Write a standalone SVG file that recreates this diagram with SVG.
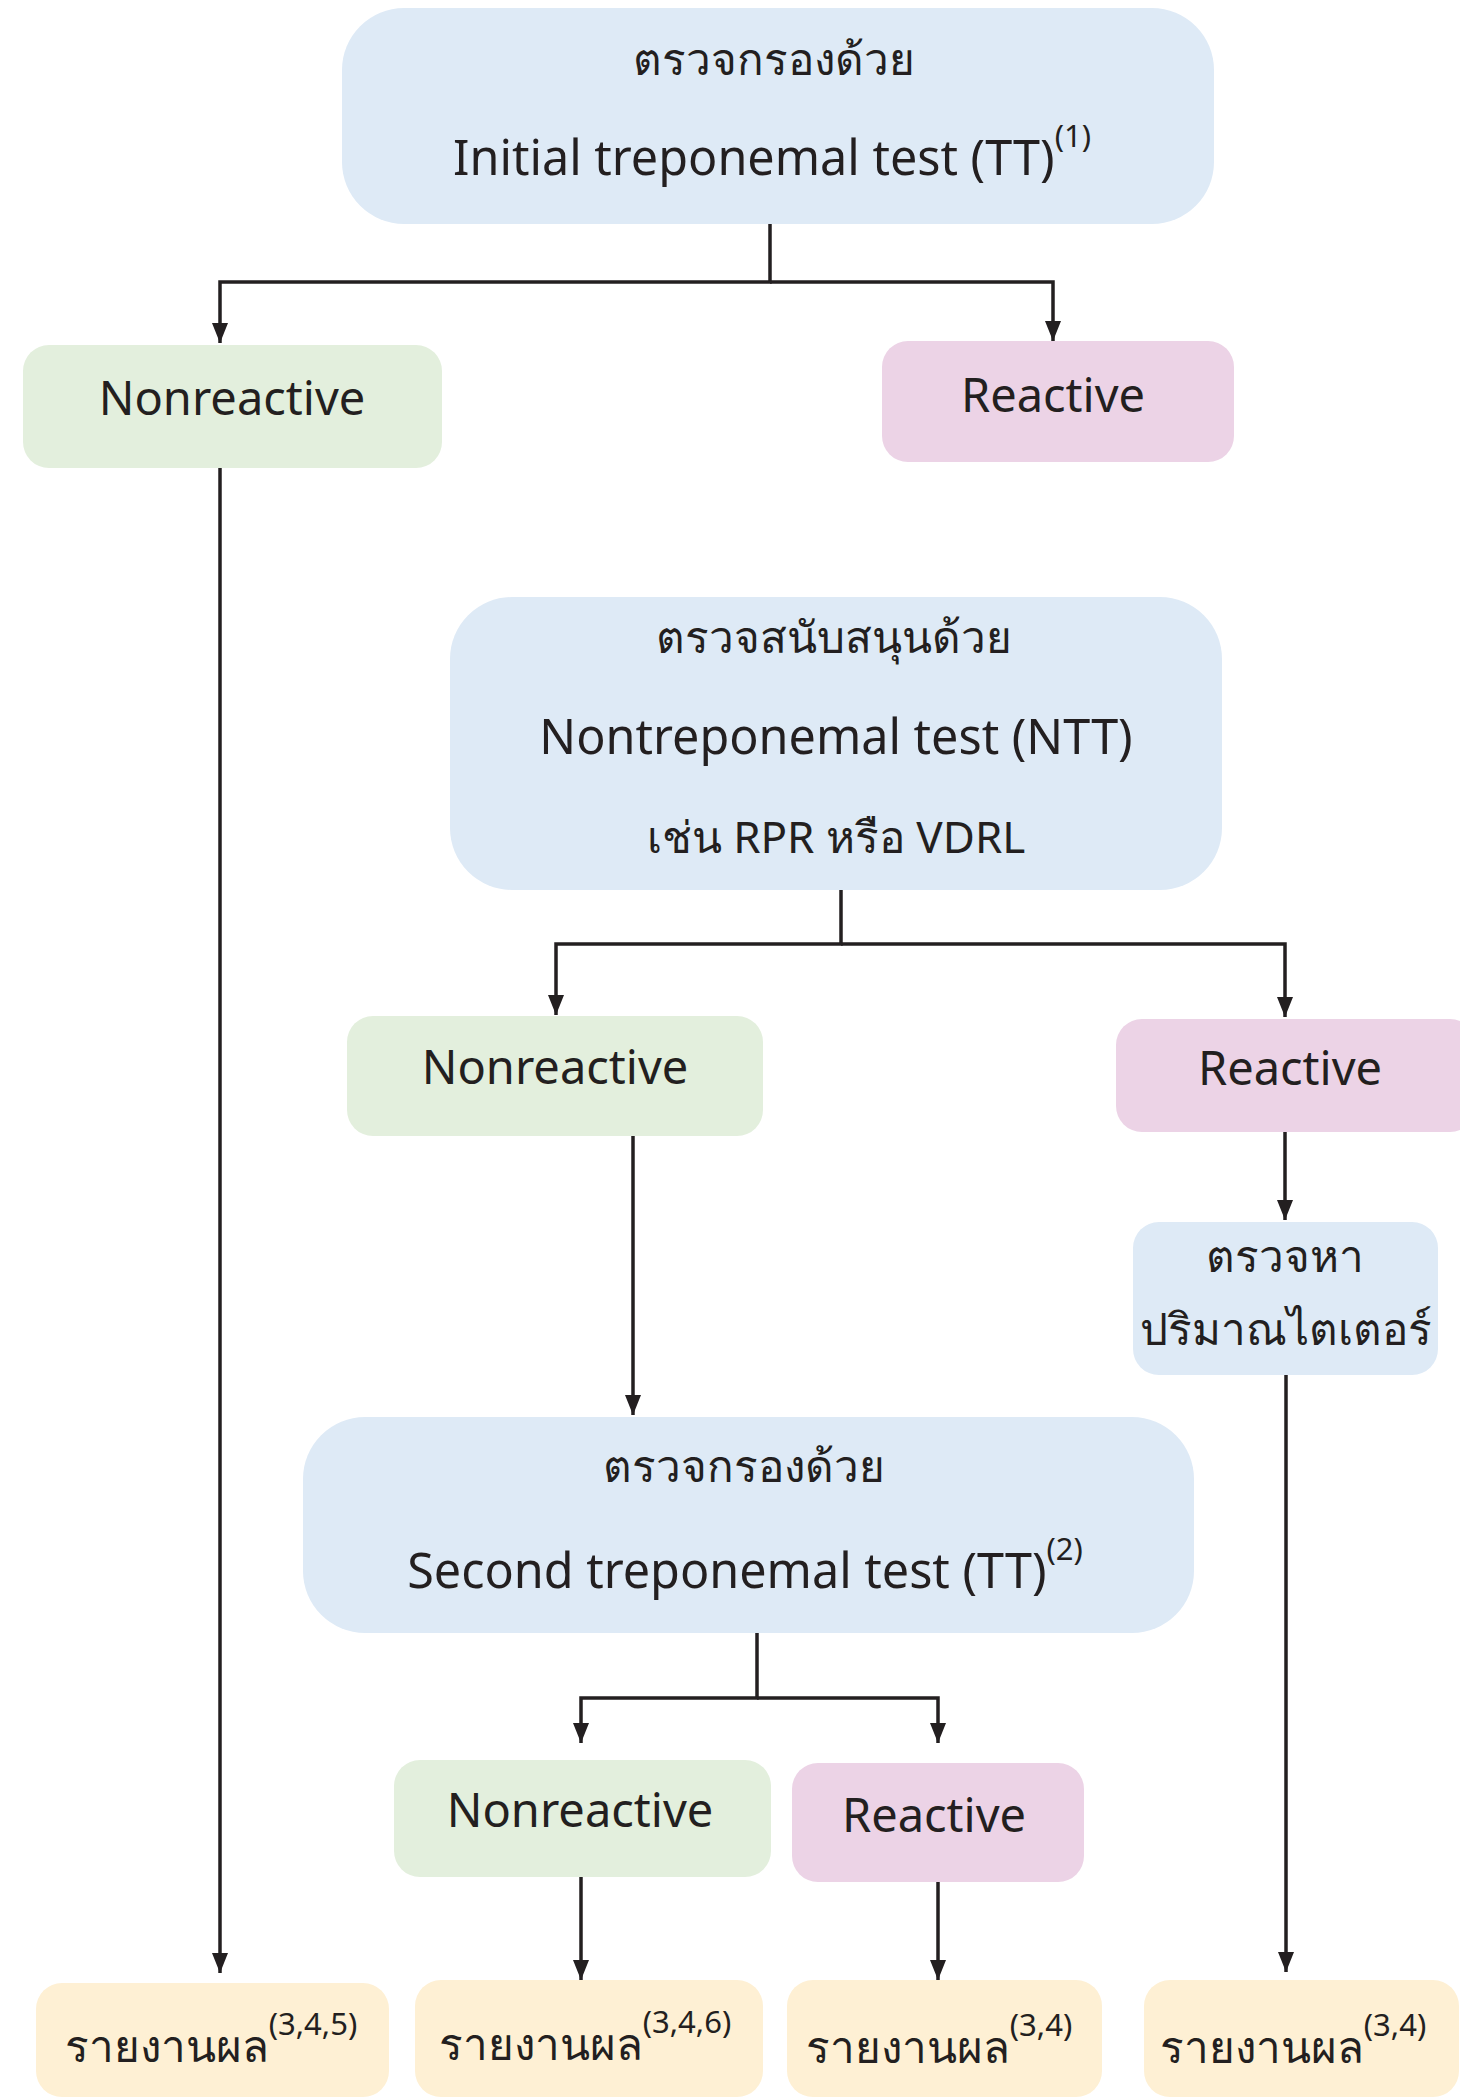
<svg xmlns="http://www.w3.org/2000/svg" width="1460" height="2097" viewBox="0 0 1460 2097">
<defs>
<style>
.blue{fill:#DEEAF6}
.green{fill:#E3EFDD}
.pink{fill:#ECD3E6}
.yellow{fill:#FEF0D4}
text{font-family:"Noto Sans","DejaVu Sans",sans-serif;fill:#231F20;text-anchor:middle}
.t{font-size:47px}
.tl{font-size:48.5px}
.th{font-size:44px}
.sup{font-size:31px}
.con{fill:none;stroke:#231F20;stroke-width:3.5}
</style>
<marker id="ah" markerUnits="userSpaceOnUse" viewBox="0 0 20 16" refX="20" refY="8" markerWidth="20" markerHeight="16" orient="auto">
<path d="M0,0 L20,8 L0,16 z" fill="#231F20"/>
</marker>
</defs>
<rect width="1460" height="2097" fill="#ffffff"/>
<g id="connectors">
<path class="con" d="M770,224 V282 H220 V343" marker-end="url(#ah)"/>
<path class="con" d="M770,282 H1053 V341" marker-end="url(#ah)"/>
<path class="con" d="M220,468 V1973" marker-end="url(#ah)"/>
<path class="con" d="M841,890 V944 H556 V1015" marker-end="url(#ah)"/>
<path class="con" d="M841,944 H1285 V1017" marker-end="url(#ah)"/>
<path class="con" d="M1285,1132 V1220" marker-end="url(#ah)"/>
<path class="con" d="M1286,1375 V1972" marker-end="url(#ah)"/>
<path class="con" d="M633,1136 V1415" marker-end="url(#ah)"/>
<path class="con" d="M757,1633 V1698 H581 V1743" marker-end="url(#ah)"/>
<path class="con" d="M757,1698 H938 V1743" marker-end="url(#ah)"/>
<path class="con" d="M581,1877 V1980" marker-end="url(#ah)"/>
<path class="con" d="M938,1882 V1980" marker-end="url(#ah)"/>
</g>
<g id="n_initial">
<rect class="blue" x="342" y="8" width="872" height="216" rx="62"/>
<text class="th" x="774" y="75">ตรวจกรองด้วย</text>
<text class="tl" x="772" y="175">Initial treponemal test (TT)<tspan class="sup" dy="-28">(1)</tspan></text>
</g>
<g id="n_nonreactive1">
<rect class="green" x="23" y="345" width="419" height="123" rx="26"/>
<text class="t" x="232" y="415">Nonreactive</text>
</g>
<g id="n_reactive1">
<rect class="pink" x="882" y="341" width="352" height="121" rx="26"/>
<text class="t" x="1053" y="412">Reactive</text>
</g>
<g id="n_ntt">
<rect class="blue" x="450" y="597" width="772" height="293" rx="62"/>
<text class="th" x="834" y="653">ตรวจสนับสนุนด้วย</text>
<text class="tl" x="836" y="754">Nontreponemal test (NTT)</text>
<text class="th" x="836" y="853">เช่น RPR หรือ VDRL</text>
</g>
<g id="n_nonreactive2">
<rect class="green" x="347" y="1016" width="416" height="120" rx="26"/>
<text class="t" x="555" y="1084">Nonreactive</text>
</g>
<g id="n_reactive2">
<rect class="pink" x="1116" y="1019" width="360" height="113" rx="26"/>
<text class="t" x="1290" y="1085">Reactive</text>
</g>
<g id="n_titer">
<rect class="blue" x="1133" y="1222" width="305" height="153" rx="26"/>
<text class="th" x="1285" y="1272">ตรวจหา</text>
<text class="th" x="1286" y="1345">ปริมาณไตเตอร์</text>
</g>
<g id="n_second">
<rect class="blue" x="303" y="1417" width="891" height="216" rx="62"/>
<text class="th" x="744" y="1482">ตรวจกรองด้วย</text>
<text class="tl" x="745" y="1588">Second treponemal test (TT)<tspan class="sup" dy="-28">(2)</tspan></text>
</g>
<g id="n_nonreactive3">
<rect class="green" x="394" y="1760" width="377" height="117" rx="26"/>
<text class="t" x="580" y="1827">Nonreactive</text>
</g>
<g id="n_reactive3">
<rect class="pink" x="792" y="1763" width="292" height="119" rx="26"/>
<text class="t" x="934" y="1832">Reactive</text>
</g>
<g id="n_report1">
<rect class="yellow" x="36" y="1983" width="353" height="114" rx="26"/>
<text class="th" x="211" y="2062">รายงานผล<tspan class="sup" dy="-27">(3,4,5)</tspan></text>
</g>
<g id="n_report2">
<rect class="yellow" x="415" y="1980" width="348" height="117" rx="26"/>
<text class="th" x="585" y="2060">รายงานผล<tspan class="sup" dy="-27">(3,4,6)</tspan></text>
</g>
<g id="n_report3">
<rect class="yellow" x="787" y="1980" width="315" height="117" rx="26"/>
<text class="th" x="939" y="2063">รายงานผล<tspan class="sup" dy="-27">(3,4)</tspan></text>
</g>
<g id="n_report4">
<rect class="yellow" x="1144" y="1980" width="315" height="117" rx="26"/>
<text class="th" x="1293" y="2063">รายงานผล<tspan class="sup" dy="-27">(3,4)</tspan></text>
</g>
</svg>
